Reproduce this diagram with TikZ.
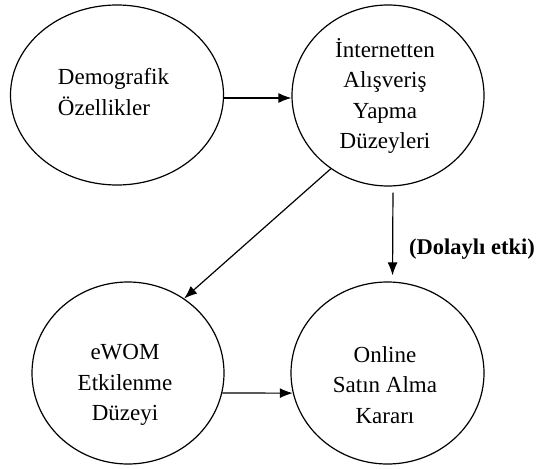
\documentclass[tikz,border=0pt]{standalone}
\usepackage{fontspec}
\setmainfont{Liberation Serif}
\usetikzlibrary{shapes.geometric,arrows.meta}
\begin{document}
\begin{tikzpicture}[x=1pt,y=-1pt,
  oval/.style={draw,ellipse,line width=1.2pt,inner sep=0pt},
  txt/.style={font=\fontsize{23}{30.5}\selectfont,inner sep=0pt},
  arr/.style={draw,line width=1.2pt,-{Latex[length=13pt,width=10pt]}}]
\useasboundingbox (0,0) rectangle (537,468);
\node[oval,minimum width=213pt,minimum height=180pt] (tl) at (117,95) {};
\node[oval,minimum width=192pt,minimum height=181pt] (tr) at (388,95.5) {};
\node[oval,minimum width=192pt,minimum height=182pt] (bl) at (128,373) {};
\node[oval,minimum width=193pt,minimum height=182pt] (br) at (387.5,373) {};
\node[txt,align=left] (tltxt) at (113.5,92) {Demografik\\Özellikler};
\node[txt,align=center] (trtxt) at (385,96) {İnternetten\\Alışveriş\\Yapma\\Düzeyleri};
\node[txt,align=center] (bltxt) at (125,385) {eWOM\\Etkilenme\\Düzeyi};
\node[txt,align=center] (brtxt) at (385,385) {Online\\Satın Alma\\Kararı};
\node[inner sep=0pt,font=\fontsize{22.5}{27}\selectfont\bfseries] (lab) at (472,249) {(Dolaylı etki)};
\coordinate (y1) at (0,98);
\draw[arr] (tl.east |- y1) -- (tr.west |- y1);
\draw[arr] (tr.232) -- (bl.53);
\draw[arr,shorten <=6pt,shorten >=6pt] ([xshift=5pt]tr.south) -- ([xshift=5pt]br.north);
\draw[arr] (bl.-12) -- (br.192);
\end{tikzpicture}
\end{document}
